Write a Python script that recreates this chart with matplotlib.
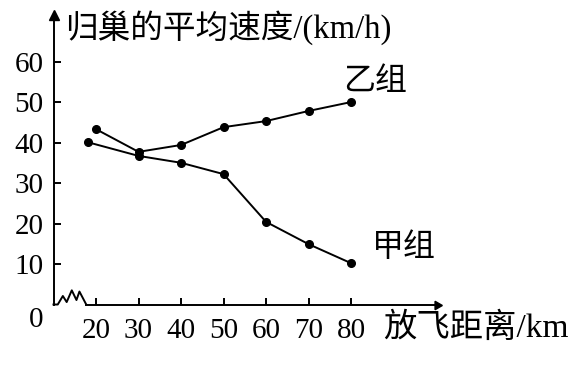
import matplotlib
matplotlib.use('Agg')
import matplotlib.pyplot as plt

# data
dist_jia = [18, 30, 40, 50, 60, 70, 80]
speed_jia = [40.1, 36.7, 35.0, 32.2, 20.4, 14.9, 10.2]
dist_yi = [20, 30, 40, 50, 60, 70, 80]
speed_yi = [43.3, 37.7, 39.4, 43.8, 45.3, 47.8, 50.0]
xticks = [20, 30, 40, 50, 60, 70, 80]
yticks = [10, 20, 30, 40, 50, 60]

W, H = 575, 371
fonts = ['Liberation Serif', 'Noto Sans CJK SC']

fig = plt.figure(figsize=(W / 100, H / 100), dpi=100)
# axes box in pixels: left spine at x=53.5, bottom at y=304.5
left, right, top, bottom = 53.5, 437, 15, 304.5
ax = fig.add_axes([left / W, (H - bottom) / H, (right - left) / W, (bottom - top) / H])
ax.set_xlim(10, 100.2)
ax.set_ylim(0, 71.5)

for s in ['top', 'right']:
    ax.spines[s].set_visible(False)
for s in ['left', 'bottom']:
    ax.spines[s].set_linewidth(1.4)
ax.spines['bottom'].set_bounds(17.7, 100.2)

# broken-axis zigzag near origin
zz_x = [10, 11.0, 12.2, 13.1, 14.3, 15.4, 16.1, 17.7]
zz_y = [0, 0, 2.1, 0.6, 3.5, 1.1, 3.2, 0]
ax.plot(zz_x, zz_y, color='k', lw=1.4, clip_on=False)

# arrow heads
ax.plot(1, 0, marker=(3, 0, -90), ms=7, color='k', transform=ax.transAxes, clip_on=False)
ax.plot(0, 1, marker='^', ms=7, color='k', transform=ax.transAxes, clip_on=False)

ax.plot(dist_jia, speed_jia, color='k', lw=1.4, marker='o', ms=5.5, clip_on=False)
ax.plot(dist_yi, speed_yi, color='k', lw=1.4, marker='o', ms=5.5, clip_on=False)

ax.set_xticks(xticks)
ax.set_yticks(yticks)
ax.tick_params(direction='in', length=5, width=1.4, labelsize=21)
ax.tick_params(axis='x', pad=10)
ax.tick_params(axis='y', pad=7)
for lab in ax.get_xticklabels() + ax.get_yticklabels():
    lab.set_fontfamily('Liberation Serif')

ax.text(78.1, 54.9, '乙组', fontsize=23, family=fonts, ha='left', va='center')
ax.text(84.9, 14.0, '甲组', fontsize=23, family=fonts, ha='left', va='center')

fig.text(36 / W, 1 - 320 / H, '0', fontsize=21, family='Liberation Serif', ha='center', va='center')
fig.text(65 / W, 1 - 28 / H, '归巢的平均速度/(km/h)', fontsize=23.5, family=fonts, ha='left', va='center')
fig.text(383 / W, 1 - 328 / H, '放飞距离/km', fontsize=24, family=fonts, ha='left', va='center')

fig.savefig('out.png', dpi=100)
